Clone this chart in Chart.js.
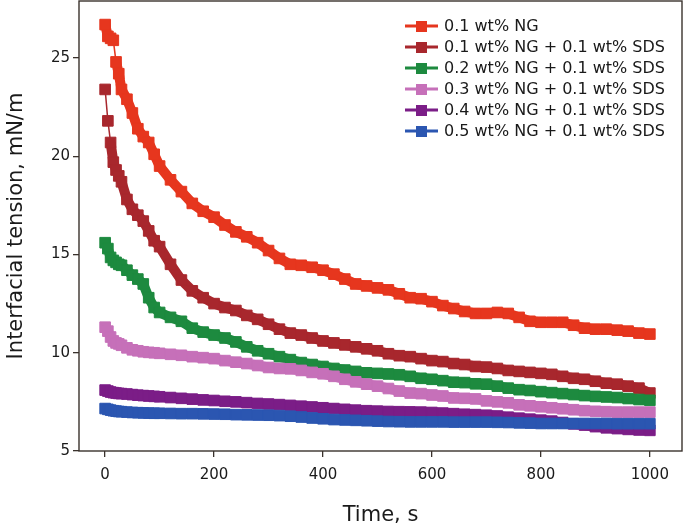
<!DOCTYPE html>
<html>
<head>
<meta charset="utf-8">
<script src="https://cdn.jsdelivr.net/npm/chart.js@4.4.1/dist/chart.umd.min.js"></script>
<style>
    body { margin: 0; background: #fff; }
</style>
</head>
<body>
<canvas id="tensaoChart" width="685" height="532"></canvas>
<script>
// tempo (s)
const tempos = [0, 5, 10, 15, 20, 25, 30, 40, 50, 60, 70, 80, 90, 100,
    120, 140, 160, 180, 200, 220, 240, 260, 280, 300, 320, 340, 360, 380, 400,
    420, 440, 460, 480, 500, 520, 540, 560, 580, 600, 620, 640, 660, 680, 700,
    720, 740, 760, 780, 800, 820, 840, 860, 880, 900, 920, 940, 960, 980, 1000];

// tensao interfacial (mN/m)
const ng01 = [26.7, 26.1, 26.0, 25.9, 24.8, 24.2, 23.4, 22.9, 22.2, 21.4, 21.0, 20.7, 20.1, 19.5,
    18.8, 18.2, 17.6, 17.2, 16.9, 16.5, 16.15, 15.9, 15.6, 15.2, 14.8, 14.5, 14.45, 14.35, 14.2,
    14.0, 13.75, 13.5, 13.4, 13.3, 13.2, 13.0, 12.8, 12.75, 12.6, 12.4, 12.25, 12.1, 12.0, 12.0,
    12.05, 12.0, 11.8, 11.6, 11.55, 11.55, 11.55, 11.4, 11.25, 11.2, 11.2, 11.15, 11.1, 11.0, 10.95];
const ng01Sds = [23.4, 21.8, 20.7, 19.7, 19.3, 19.0, 18.7, 17.8, 17.3, 17.0, 16.7, 16.2, 15.7, 15.4,
    14.5, 13.7, 13.15, 12.8, 12.5, 12.3, 12.15, 11.9, 11.7, 11.45, 11.2, 11.0, 10.9, 10.75, 10.6,
    10.5, 10.4, 10.3, 10.2, 10.1, 9.95, 9.85, 9.8, 9.7, 9.6, 9.55, 9.45, 9.4, 9.3, 9.27,
    9.2, 9.1, 9.05, 9.0, 8.95, 8.9, 8.8, 8.7, 8.65, 8.55, 8.45, 8.4, 8.3, 8.2, 7.95];
const ng02Sds = [15.6, 15.3, 14.85, 14.7, 14.6, 14.5, 14.45, 14.2, 13.95, 13.75, 13.5, 12.8, 12.3, 12.05,
    11.8, 11.6, 11.25, 11.05, 10.9, 10.75, 10.55, 10.3, 10.1, 9.95, 9.8, 9.65, 9.5, 9.4, 9.3,
    9.2, 9.12, 9.05, 8.98, 8.95, 8.92, 8.88, 8.8, 8.7, 8.65, 8.58, 8.5, 8.48, 8.42, 8.4,
    8.3, 8.2, 8.12, 8.08, 8.02, 7.97, 7.92, 7.87, 7.82, 7.78, 7.75, 7.72, 7.67, 7.62, 7.58];
const ng03Sds = [11.3, 11.1, 10.8, 10.6, 10.5, 10.45, 10.38, 10.25, 10.15, 10.1, 10.05, 10.02, 10.0, 9.97,
    9.92, 9.87, 9.8, 9.75, 9.7, 9.6, 9.52, 9.45, 9.35, 9.25, 9.2, 9.18, 9.1, 9.0, 8.93,
    8.8, 8.65, 8.52, 8.4, 8.3, 8.18, 8.05, 7.95, 7.92, 7.85, 7.8, 7.7, 7.68, 7.65, 7.55,
    7.5, 7.45, 7.35, 7.3, 7.25, 7.2, 7.15, 7.1, 7.05, 7.02, 7.0, 6.98, 6.98, 6.98, 6.98];
const ng04Sds = [8.1, 8.05, 8.0, 7.97, 7.95, 7.93, 7.92, 7.9, 7.87, 7.84, 7.82, 7.8, 7.78, 7.76,
    7.72, 7.68, 7.64, 7.6, 7.57, 7.53, 7.5, 7.46, 7.42, 7.39, 7.36, 7.32, 7.28, 7.24, 7.2,
    7.16, 7.12, 7.08, 7.05, 7.03, 7.01, 7.0, 6.99, 6.98, 6.96, 6.93, 6.9, 6.87, 6.85, 6.82,
    6.78, 6.72, 6.67, 6.62, 6.57, 6.52, 6.45, 6.38, 6.32, 6.24, 6.18, 6.14, 6.1, 6.07, 6.05];
const ng05Sds = [7.16, 7.12, 7.08, 7.05, 7.03, 7.01, 7.0, 6.98, 6.96, 6.95, 6.94, 6.93, 6.92, 6.92,
    6.91, 6.9, 6.9, 6.89, 6.88, 6.87, 6.85, 6.84, 6.83, 6.82, 6.8, 6.77, 6.73, 6.68, 6.64,
    6.6, 6.58, 6.56, 6.54, 6.52, 6.5, 6.49, 6.48, 6.48, 6.48, 6.48, 6.47, 6.47, 6.47, 6.47,
    6.46, 6.45, 6.43, 6.42, 6.4, 6.4, 6.4, 6.4, 6.4, 6.4, 6.4, 6.39, 6.39, 6.39, 6.39];

const rotulos = [
    '0.1 wt% NG',
    '0.1 wt% NG + 0.1 wt% SDS',
    '0.2 wt% NG + 0.1 wt% SDS',
    '0.3 wt% NG + 0.1 wt% SDS',
    '0.4 wt% NG + 0.1 wt% SDS',
    '0.5 wt% NG + 0.1 wt% SDS'
];
const series = [ng01, ng01Sds, ng02Sds, ng03Sds, ng04Sds, ng05Sds];
const cores = ['#e6361e', '#a8272d', '#1d8a3f', '#c670b9', '#7b1d87', '#2b56b1'];

const xTicks = [0, 200, 400, 600, 800, 1000];
const yTicks = [5, 10, 15, 20, 25];

const fonte = '"DejaVu Sans", sans-serif';
const corEixo = '#3a322d';

// legenda desenhada dentro da area do grafico + moldura
const legendaPlugin = {
    id: 'legenda',
    afterDatasetsDraw(chart) {
        const ctx = chart.ctx;
        ctx.save();
        chart.data.datasets.forEach((ds, i) => {
            const y = 26 + i * 21;
            ctx.strokeStyle = ds.borderColor;
            ctx.lineWidth = 3;
            ctx.beginPath();
            ctx.moveTo(405, y);
            ctx.lineTo(438, y);
            ctx.stroke();
            ctx.fillStyle = ds.backgroundColor;
            ctx.fillRect(416, y - 5, 11, 11);
            ctx.fillStyle = '#1a1a1a';
            ctx.font = '16px ' + fonte;
            ctx.textBaseline = 'middle';
            ctx.textAlign = 'left';
            ctx.fillText(ds.label, 444, y + 1);
        });
        ctx.restore();
    },
    afterDraw(chart) {
        const a = chart.chartArea;
        const ctx = chart.ctx;
        ctx.save();
        ctx.strokeStyle = corEixo;
        ctx.lineWidth = 1.4;
        ctx.strokeRect(a.left, a.top, a.right - a.left, a.bottom - a.top);
        ctx.restore();
    }
};

// pontos muito espaçados ficam ligados por linha fina
function larguraSegmento(c) {
    const dx = c.p1.x - c.p0.x;
    const dy = c.p1.y - c.p0.y;
    return Math.sqrt(dx * dx + dy * dy) > 21.5 ? 1.5 : 10;
}

function semPadding(axis) {
    axis.paddingLeft = 0;
    axis.paddingRight = 0;
    axis.paddingTop = 0;
    axis.paddingBottom = 0;
}

const ctx = document.getElementById('tensaoChart').getContext('2d');

new Chart(ctx, {
    type: 'line',
    data: {
        datasets: series.map((serie, i) => ({
            label: rotulos[i],
            data: tempos.map((t, j) => ({ x: t, y: serie[j] })),
            borderColor: cores[i],
            backgroundColor: cores[i],
            borderWidth: 10,
            borderJoinStyle: 'round',
            segment: { borderWidth: larguraSegmento },
            pointStyle: 'rect',
            pointRadius: 7.5,
            pointBorderWidth: 1,
            pointBorderColor: cores[i],
            pointBackgroundColor: cores[i],
            tension: 0,
            order: series.length - i
        }))
    },
    plugins: [legendaPlugin],
    options: {
        responsive: false,
        devicePixelRatio: 1,
        animation: false,
        events: [],
        layout: {
            autoPadding: false,
            padding: { top: 1, right: 3, left: 0, bottom: 0 }
        },
        plugins: {
            legend: { display: false },
            tooltip: { enabled: false }
        },
        scales: {
            x: {
                type: 'linear',
                min: -48,
                max: 1059,
                afterBuildTicks: axis => { axis.ticks = xTicks.map(v => ({ value: v })); },
                afterFit: axis => { axis.height = 81; semPadding(axis); },
                border: { display: false },
                grid: {
                    drawOnChartArea: false,
                    drawTicks: true,
                    tickLength: 6,
                    tickColor: corEixo,
                    lineWidth: 1.3
                },
                ticks: {
                    color: '#1a1a1a',
                    font: { family: fonte, size: 15 },
                    padding: 9,
                    maxRotation: 0,
                    callback: v => String(v)
                },
                title: {
                    display: true,
                    text: 'Time, s',
                    color: '#1a1a1a',
                    font: { family: fonte, size: 21 },
                    padding: { top: 0, bottom: 4 }
                }
            },
            y: {
                min: 5,
                max: 27.9,
                afterBuildTicks: axis => { axis.ticks = yTicks.map(v => ({ value: v })); },
                afterFit: axis => { axis.width = 79; semPadding(axis); },
                border: { display: false },
                grid: {
                    drawOnChartArea: false,
                    drawTicks: true,
                    tickLength: 6,
                    tickColor: corEixo,
                    lineWidth: 1.3
                },
                ticks: {
                    color: '#1a1a1a',
                    font: { family: fonte, size: 15 },
                    padding: 3,
                    callback: v => String(v)
                },
                title: {
                    display: true,
                    text: 'Interfacial tension, mN/m',
                    color: '#1a1a1a',
                    font: { family: fonte, size: 21 },
                    padding: { top: 4, bottom: 0 }
                }
            }
        }
    }
});
</script>
</body>
</html>
